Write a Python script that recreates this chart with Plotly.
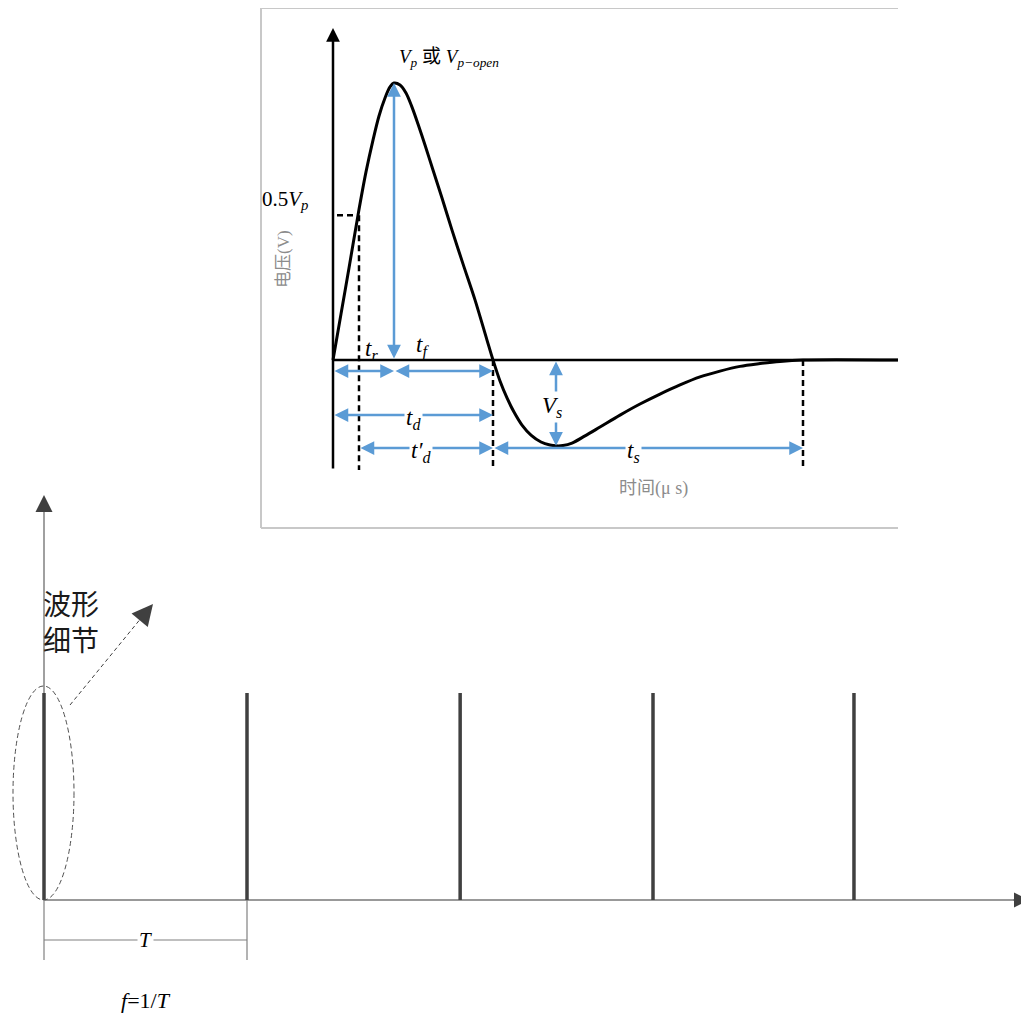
import plotly.graph_objects as go

W, H = 1029, 1016
OFF = 8  # default page body margin; the figure is drawn from (8, 8)

# ---------------- data ----------------
# Inset waveform: time (µs, arbitrary units) and voltage normalised to Vp
wave_t = [0, 0.8, 1.6, 2.5, 3.3, 4.0, 4.6, 5.2, 5.7, 6.1,
          6.7, 7.3, 7.9, 8.5, 9.2, 10.0, 10.9, 11.9, 13.0, 14.2, 15.4, 16.0,
          16.7, 17.4, 18.1, 18.9, 19.8, 20.8, 21.7, 22.3, 23.0, 23.9, 25.2, 26.7,
          28.7, 30.7, 32.7, 34.7, 36.7, 38.7, 40.7, 42.7, 44.7, 47.0, 56.5]
wave_v = [0, 0.166, 0.332, 0.523, 0.679, 0.794, 0.881, 0.946, 0.986, 1.0,
          0.993, 0.964, 0.913, 0.852, 0.776, 0.686, 0.585, 0.469, 0.347, 0.217, 0.072, 0.0,
          -0.076, -0.137, -0.188, -0.235, -0.271, -0.296, -0.307, -0.310, -0.309, -0.300,
          -0.274, -0.242, -0.199, -0.159, -0.123, -0.090, -0.061, -0.040, -0.023, -0.013,
          -0.005, 0.0, 0.0]

t_rise = 2.6      # time at 0.5 Vp
t_peak = 6.1      # time of Vp
t_zero = 16.0     # zero crossing
t_min = 22.3      # time of undershoot minimum
t_settle = 47.0   # end of ts
t_end = 56.5
v_peak = 1.0
v_half = 0.523
v_min = -0.310

# Pulse train (bottom)
pulse_times = [0, 1, 2.05, 3.0, 3.99]
pulse_height = 1.0
period = 1.0

# ---------------- layout geometry (pixel mapping) ----------------
BX0, BY0, BSX, BSY = 44, 900, 203, 207      # bottom chart: origin px, px per unit
IX0, IY0, ISX, ISY = 333, 360, 10, 277      # inset chart: origin px, px per unit

def bx(px): return (px - BX0) / BSX
def by(py): return (BY0 - py) / BSY
def ix(px): return (px - IX0) / ISX
def iy(py): return (IY0 - py) / ISY
def pxp(px): return (px - OFF) / (W - OFF)
def pyp(py): return 1 - (py - OFF) / (H - OFF)

BLUE = "#5B9BD5"
SERIF = "Liberation Serif, DejaVu Serif, Noto Sans CJK SC, serif"
CJK = "Noto Sans CJK SC, sans-serif"

fig = go.Figure()

# ---- bottom: pulses ----
px_, py_ = [], []
for t in pulse_times:
    px_ += [t, t, None]
    py_ += [0, pulse_height, None]
fig.add_trace(go.Scatter(x=px_, y=py_, mode="lines", line=dict(color="#404040", width=3.5),
                         hoverinfo="skip", showlegend=False, xaxis="x", yaxis="y"))

# dashed pointer line from ellipse towards inset
fig.add_trace(go.Scatter(x=[bx(70), bx(142)], y=[by(705), by(617)], mode="lines",
                         line=dict(color="#404040", width=1, dash="4px,3px"),
                         hoverinfo="skip", showlegend=False, xaxis="x", yaxis="y"))

# ---- inset: baseline and waveform ----
fig.add_trace(go.Scatter(x=[0, t_end], y=[0, 0], mode="lines", line=dict(color="black", width=2.5),
                         hoverinfo="skip", showlegend=False, xaxis="x2", yaxis="y2"))
fig.add_trace(go.Scatter(x=wave_t, y=wave_v, mode="lines",
                         line=dict(color="black", width=3, shape="spline", smoothing=0.9),
                         hoverinfo="skip", showlegend=False, xaxis="x2", yaxis="y2"))

v_row1, v_row2, v_row3 = iy(371), iy(415), iy(448)
v_bot = iy(470)

shapes = []
# inset frame (top, left, bottom)
fx0, fx1 = pxp(261), pxp(898)
fy0, fy1 = pyp(528), pyp(8)
for (a, b, c, d) in [(fx0, fy1, fx1, fy1), (fx0, fy0, fx0, fy1), (fx0, fy0, fx1, fy0)]:
    shapes.append(dict(type="line", xref="paper", yref="paper", x0=a, y0=b, x1=c, y1=d,
                       line=dict(color="#C8C8C8", width=2), layer="below"))
# dashed black guides
dash_k = dict(color="black", width=2.5, dash="6px,4px")
shapes.append(dict(type="line", xref="x2", yref="y2", x0=ix(337), y0=v_half, x1=t_rise, y1=v_half, line=dash_k))
shapes.append(dict(type="line", xref="x2", yref="y2", x0=t_rise, y0=v_half, x1=t_rise, y1=v_bot, line=dash_k))
shapes.append(dict(type="line", xref="x2", yref="y2", x0=t_zero, y0=0, x1=t_zero, y1=v_bot, line=dash_k))
shapes.append(dict(type="line", xref="x2", yref="y2", x0=t_settle, y0=0, x1=t_settle, y1=v_bot, line=dash_k))
# ellipse around first pulse
shapes.append(dict(type="circle", xref="x", yref="y", x0=bx(13), x1=bx(74), y0=0, y1=by(686),
                   line=dict(color="#505050", width=1, dash="5px,3px")))
# bottom axes lines
shapes.append(dict(type="line", xref="x", yref="y", x0=0, y0=0, x1=0, y1=by(512),
                   line=dict(color="#A0A0A0", width=2), layer="below"))
shapes.append(dict(type="line", xref="x", yref="y", x0=0, y0=0, x1=bx(1014), y1=0,
                   line=dict(color="#999999", width=2), layer="below"))
# T dimension lines
gline = dict(color="#808080", width=1.2)
shapes.append(dict(type="line", xref="x", yref="y", x0=0, y0=0, x1=0, y1=by(960), line=gline))
shapes.append(dict(type="line", xref="x", yref="y", x0=period, y0=0, x1=period, y1=by(960), line=gline))
shapes.append(dict(type="line", xref="x", yref="y", x0=0, y0=by(940), x1=period, y1=by(940), line=gline))

ann = []

def arrow(x0, y0, x1, y1, ref, color, width, size, both=True, head=2):
    ann.append(dict(x=x1, y=y1, ax=x0, ay=y0, xref="x" + ref, yref="y" + ref,
                    axref="x" + ref, ayref="y" + ref, text="", showarrow=True,
                    arrowhead=head, startarrowhead=head,
                    arrowside="end+start" if both else "end",
                    arrowwidth=width, arrowsize=size, startarrowsize=size,
                    arrowcolor=color, standoff=0, startstandoff=0))

# inset y-axis
arrow(0, v_bot, 0, iy(28), "2", "black", 2.5, 1.1, both=False)
# blue dimension arrows
arrow(t_peak, 0, t_peak, v_peak, "2", BLUE, 2.5, 1.1)
arrow(0, v_row1, t_peak, v_row1, "2", BLUE, 2.5, 1.1)
arrow(t_peak, v_row1, t_zero, v_row1, "2", BLUE, 2.5, 1.1)
arrow(0, v_row2, t_zero, v_row2, "2", BLUE, 2.5, 1.1)
arrow(t_rise, v_row3, t_zero, v_row3, "2", BLUE, 2.5, 1.1)
arrow(t_zero, v_row3, t_settle, v_row3, "2", BLUE, 2.5, 1.1)
arrow(t_min, 0, t_min, v_min, "2", BLUE, 2.5, 1.1)

# bottom axes arrow heads (dark heads on lighter lines)
arrow(0, by(512), 0, by(495), "", "#404040", 1, 3.4, both=False)
arrow(bx(1012), 0, bx(1029), 0, "", "#404040", 1, 3.0, both=False)
# arrow head of dashed pointer
arrow(bx(139), by(621), bx(153), by(604), "", "#404040", 1, 4.2, both=False)

def label(x, y, text, ref, size, color="black", family=SERIF, bg=None, angle=0):
    d = dict(x=x, y=y, xref="x" + ref, yref="y" + ref, text=text, showarrow=False,
             font=dict(size=size, color=color, family=family), textangle=angle,
             xanchor="center", yanchor="middle")
    if bg:
        d["bgcolor"] = bg
    ann.append(d)

label(ix(449), iy(58), "<i>V<sub>p</sub></i> 或 <i>V<sub>p−open</sub></i>", "2", 19)
label(ix(285), iy(200), "0.5<i>V<sub>p</sub></i>", "2", 21)
label(ix(283), iy(259), "电压(V)", "2", 17, color="#8C8C8C", angle=-90)
label(ix(653), iy(488), "时间(μ s)", "2", 18, color="#8C8C8C")
label(ix(371), iy(350), "<i>t<sub>r</sub></i>", "2", 23)
label(ix(422), iy(346), "<i>t<sub>f</sub></i>", "2", 23)
label(ix(413), iy(419), "<i>t<sub>d</sub></i>", "2", 23, bg="white")
label(ix(421), iy(452), "<i>t′<sub>d</sub></i>", "2", 23, bg="white")
label(ix(633), iy(452), "<i>t<sub>s</sub></i>", "2", 23, bg="white")
label(ix(552), iy(407), "<i>V<sub>s</sub></i>", "2", 23, bg="white")

label(period / 2, by(940), "<i>T</i>", "", 21, bg="white")
label(period / 2, by(1000), "<i>f</i>=1/<i>T</i>", "", 22)
ann.append(dict(x=bx(41), y=by(581), xref="x", yref="y", text="波形<br>细节", showarrow=False,
                xanchor="left", yanchor="top", align="left",
                font=dict(size=28, color="#1a1a1a", family=CJK)))

hidden = dict(visible=False, fixedrange=True, showgrid=False, zeroline=False)
fig.update_layout(
    width=W - OFF, height=H - OFF, margin=dict(l=0, r=0, t=0, b=0),
    paper_bgcolor="white", plot_bgcolor="rgba(0,0,0,0)",
    xaxis=dict(domain=[0, 1], range=[bx(OFF), bx(W)], **hidden),
    yaxis=dict(domain=[0, 1], range=[by(H), by(OFF)], **hidden),
    xaxis2=dict(domain=[0, 1], range=[ix(OFF), ix(W)], overlaying="x", anchor="y2", **hidden),
    yaxis2=dict(domain=[0, 1], range=[iy(H), iy(OFF)], overlaying="y", anchor="x2", **hidden),
    shapes=shapes, annotations=ann, showlegend=False,
)

fig.write_html("out.html")
